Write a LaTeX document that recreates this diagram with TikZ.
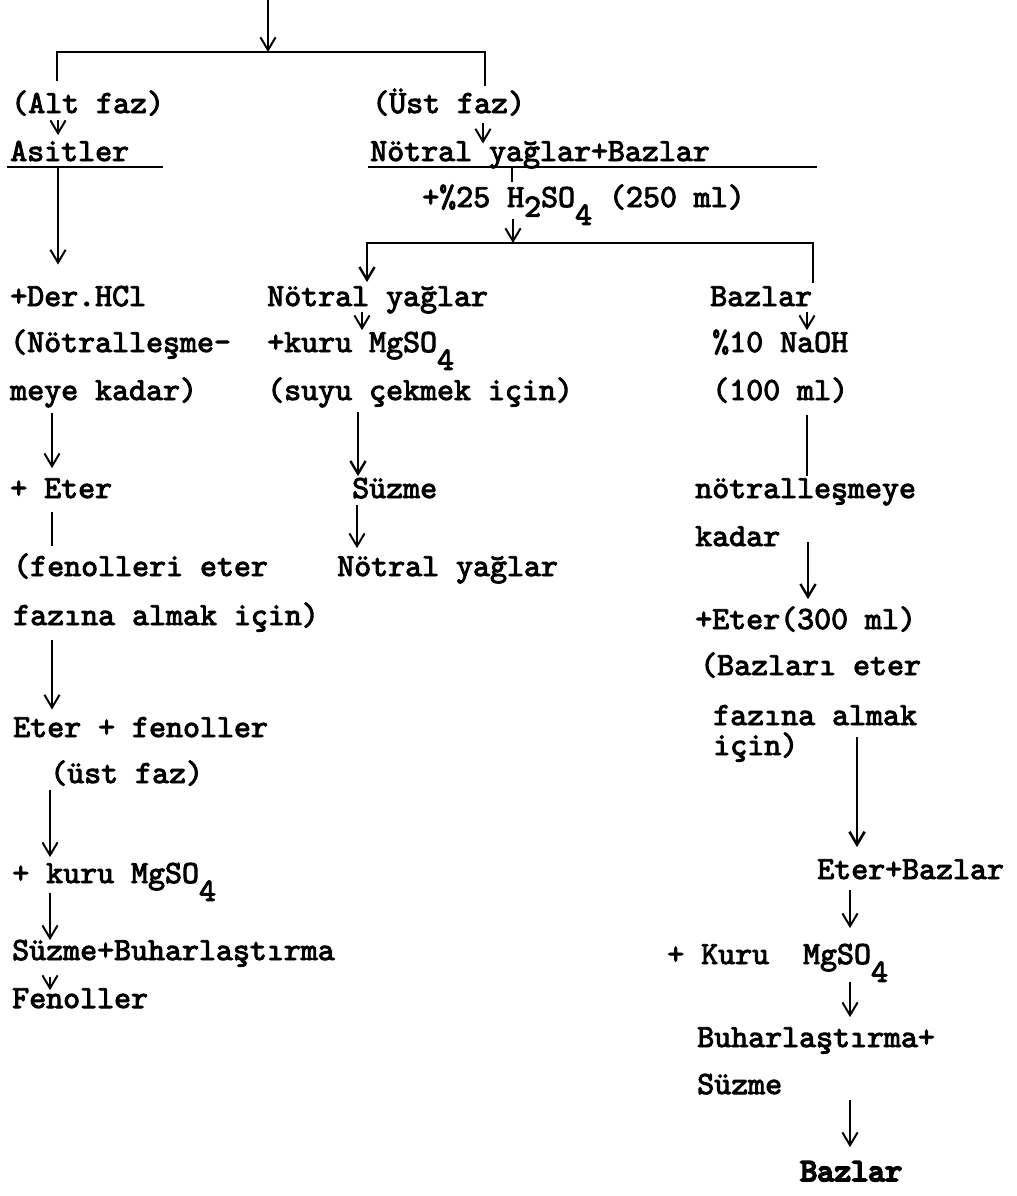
\documentclass[tikz,border=0pt]{standalone}
\usepackage{fontspec}
\usepackage{xcolor}
\usetikzlibrary{arrows.meta}
\newfontfamily\twfont{lmmono10-regular.otf}[FakeBold=3]
\newfontfamily\twheavy{lmmono10-regular.otf}[FakeBold=6]
\newcommand{\dn}[2][0.55em]{\raisebox{-#1}{#2}}
\tikzset{
  tw/.style={font=\twfont\fontsize{23}{27}\selectfont,inner sep=0pt,anchor=base west,
    text height=4.8mm,text depth=1.5mm},
  farrow/.style={-{Straight Barb[length=3.2mm,width=3.8mm]},line width=1.4pt},
  fline/.style={line width=1.4pt},
  uline/.style={line width=1.5pt}
}

\begin{document}
\begin{tikzpicture}[x=0.25mm,y=-0.25mm]
  \useasboundingbox (0,0) rectangle (1017,1196);
  \coordinate (src) at (268,0);
  \coordinate (br1) at (268,52);
  \coordinate (br2) at (513,243);
  \node[tw] (altfaz) at (11,113) {(Alt faz)};
  \node[tw] (ustfaz) at (372,113) {(Üst faz)};
  \node[tw] (asit) at (10,161) {Asitler};
  \node[tw] (nybaz) at (370,161) {Nötral yağlar+Bazlar};
  \node[tw] (h2so) at (422,207) {+\%25 H\dn[0.3em]{2}SO\dn{4} (250 ml)};
  \node[tw] (hcl) at (10,306) {+Der.HCl};
  \node[tw] (notr) at (10,352) {(Nötralleşme-};
  \node[tw] (kadar1) at (10,400) {meye kadar)};
  \node[tw] (eter1) at (10,498) {+ Eter};
  \node[tw] (fenet) at (13,576) {(fenolleri eter};
  \node[tw] (fazalm) at (13,625) {fazına almak için)};
  \node[tw] (etfen) at (13,737) {Eter + fenoller};
  \node[tw] (ustfaz2) at (50,783) {(üst faz)};
  \node[tw] (kuru2) at (12,883) {+ kuru MgSO\dn{4}};
  \node[tw] (suzbuh) at (12,960) {Süzme+Buharlaştırma};
  \node[tw] (fenol) at (12,1008) {Fenoller};
  \node[tw] (ny1) at (267,306) {Nötral yağlar};
  \node[tw] (kuru1) at (267,352) {+kuru MgSO\dn{4}};
  \node[tw] (suyu) at (267,400) {(suyu çekmek için)};
  \node[tw] (suz1) at (352,498) {Süzme};
  \node[tw] (ny2) at (337,576) {Nötral yağlar};
  \node[tw] (baz1) at (710,306) {Bazlar};
  \node[tw] (naoh) at (712,352) {\%10 NaOH};
  \node[tw] (ml100) at (712,400) {(100 ml)};
  \node[tw] (notrm) at (695,498) {nötralleşmeye};
  \node[tw] (kadar2) at (695,546) {kadar};
  \node[tw] (eter300) at (695,629) {+Eter(300 ml)};
  \node[tw] (bazet) at (700,675) {(Bazları eter};
  \node[tw] (fazalm2) at (713,725) {fazına almak};
  \node[tw] (icin) at (713,755) {için)};
  \node[tw] (eterbaz) at (817,879) {Eter+Bazlar};
  \node[tw] (kuru3) at (667,964) {+ Kuru~~MgSO\dn{4}};
  \node[tw] (buhar) at (697,1047) {Buharlaştırma+};
  \node[tw] (suz2) at (697,1094) {Süzme};
  \node[tw,font=\twheavy\fontsize{23}{27}\selectfont] (bazlar) at (800,1181) {Bazlar};

  \draw[uline] ([shift={(-3,6)}]asit.base west) -- ++(156,0);
  \draw[uline] ([shift={(-2,6)}]nybaz.base west) -- ++(449,0);

  \draw[farrow] (src) -- (br1);
  \draw[fline,line width=1.7pt] ([shift={(46,-13)}]altfaz.north west) |- (br1) -| ([shift={(113,-8)}]ustfaz.north west);
  \draw[farrow,shorten >=1.6mm] ([shift={(47,1)}]altfaz.south west) coordinate (p) -- (p |- asit.north);
  \draw[farrow,shorten >=-0.5mm] ([shift={(111,4)}]ustfaz.south west) coordinate (p) -- (p |- nybaz.north);
  \draw[farrow,shorten >=5.5mm] ([shift={(48,1)}]asit.south west) coordinate (p) -- (p |- hcl.north);
  \draw[fline,shorten >=1.4mm] ([shift={(142,0)}]nybaz.south west) coordinate (p) -- (p |- h2so.north);
  \draw[farrow] ([shift={(91,6)}]h2so.south west) -- (br2);
  \draw[farrow,line width=1.7pt,shorten >=1.1mm] (br2) -| ([shift={(100,0)}]ny1.north west);
  \draw[fline,line width=1.7pt] (br2) -| ([shift={(103,-4)}]baz1.north west);

  \draw[farrow,shorten >=0.6mm] ([shift={(95,0)}]ny1.south west) coordinate (p) -- (p |- kuru1.north);
  \draw[farrow,line width=1.7pt,shorten >=0.6mm] ([shift={(91,6)}]suyu.south west) coordinate (p) -- (p |- suz1.north);
  \draw[farrow,shorten >=2.1mm] ([shift={(5,1)}]suz1.south west) coordinate (p) -- (p |- ny2.north);

  \draw[farrow,shorten >=0.6mm] ([shift={(97,0)}]baz1.south west) coordinate (p) -- (p |- naoh.north);
  \draw[fline,shorten >=0.6mm] ([shift={(95,9)}]ml100.south west) coordinate (p) -- (p |- notrm.north);
  \draw[farrow,line width=1.7pt,shorten >=2.6mm] ([shift={(113,-4)}]kadar2.base west) coordinate (p) -- (p |- eter300.north);
  \draw[farrow,line width=1.9pt,shorten >=3.1mm] ([shift={(144,6)}]fazalm2.south west) coordinate (p) -- (p |- eterbaz.north);
  \draw[farrow,shorten >=4.1mm] ([shift={(33,5)}]eterbaz.south west) coordinate (p) -- (p |- kuru3.north);
  \draw[farrow,shorten >=2.6mm] ([shift={(183,12)}]kuru3.south west) coordinate (p) -- (p |- buhar.north);
  \draw[farrow,shorten >=3.6mm] ([shift={(153,0)}]suz2.south west) coordinate (p) -- (p |- bazlar.north);

  \draw[farrow,shorten >=2.6mm] ([shift={(42,7)}]kadar1.south west) coordinate (p) -- (p |- eter1.north);
  \draw[fline,shorten >=2.6mm] ([shift={(42,8)}]eter1.south west) coordinate (p) -- (p |- fenet.north);
  \draw[farrow,shorten >=2mm] ([shift={(39,9)}]fazalm.south west) coordinate (p) -- (p |- etfen.north);
  \draw[farrow,shorten >=1.6mm] ([shift={(0,1)}]ustfaz2.south west) coordinate (p) -- (p |- kuru2.north);
  \draw[farrow,shorten >=0.1mm] ([shift={(38,4)}]kuru2.south west) coordinate (p) -- (p |- suzbuh.north);
  \draw[farrow,shorten >=-0.4mm] ([shift={(38,11)}]suzbuh.south west) coordinate (p) -- (p |- fenol.north);
\end{tikzpicture}
\end{document}
